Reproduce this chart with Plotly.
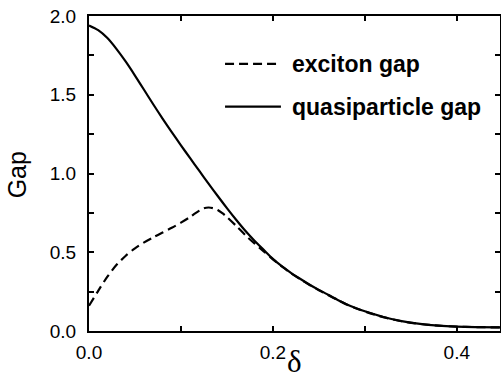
import plotly.graph_objects as go

# ---- data ----
delta_qp = [0.0, 0.01, 0.02, 0.03, 0.04, 0.05, 0.06, 0.07, 0.08, 0.09, 0.10,
            0.11, 0.12, 0.13, 0.14, 0.15, 0.16, 0.17, 0.18, 0.19, 0.20,
            0.21, 0.22, 0.23, 0.24, 0.25, 0.26, 0.27, 0.28, 0.29, 0.30,
            0.32, 0.34, 0.36, 0.38, 0.40, 0.42, 0.447]
quasiparticle_gap = [1.94, 1.91, 1.86, 1.79, 1.71, 1.622, 1.530, 1.438, 1.349,
                     1.263, 1.179, 1.097, 1.016, 0.936, 0.857, 0.780, 0.706,
                     0.636, 0.573, 0.515, 0.458, 0.410, 0.368, 0.330, 0.294,
                     0.261, 0.230, 0.199, 0.170, 0.146, 0.125, 0.089, 0.063,
                     0.045, 0.034, 0.028, 0.025, 0.023]

delta_ex = [0.0, 0.01, 0.02, 0.03, 0.04, 0.05, 0.06, 0.07, 0.08, 0.09, 0.10,
            0.11, 0.115, 0.12, 0.125, 0.13, 0.135, 0.14, 0.145, 0.15, 0.16,
            0.17, 0.18, 0.19, 0.20, 0.21, 0.22, 0.23, 0.24, 0.25, 0.26,
            0.27, 0.28, 0.29, 0.30, 0.32, 0.34, 0.36, 0.38, 0.40, 0.42, 0.447]
exciton_gap = [0.16, 0.255, 0.345, 0.42, 0.478, 0.525, 0.563, 0.595, 0.625,
               0.655, 0.688, 0.724, 0.745, 0.764, 0.779, 0.784, 0.780, 0.768,
               0.748, 0.724, 0.668, 0.609, 0.556, 0.506, 0.455, 0.408, 0.366,
               0.328, 0.292, 0.259, 0.228, 0.198, 0.169, 0.145, 0.124, 0.088,
               0.062, 0.045, 0.034, 0.028, 0.025, 0.023]

legend_labels = ["exciton gap", "quasiparticle gap"]
x_title = "δ"
y_title = "Gap"

# ---- figure ----
fig = go.Figure()
fig.add_trace(go.Scatter(x=delta_ex, y=exciton_gap, mode="lines",
                         line=dict(color="black", width=2.2, dash="9px,5px",
                                   shape="spline", smoothing=0.8),
                         name=legend_labels[0], showlegend=False))
fig.add_trace(go.Scatter(x=delta_qp, y=quasiparticle_gap, mode="lines",
                         line=dict(color="black", width=2.2,
                                   shape="spline", smoothing=0.8),
                         name=legend_labels[1], showlegend=False))

# hand-made legend (line samples + bold labels)
leg_x0, leg_x1, leg_tx = 0.331, 0.467, 0.490
leg_y = [0.848, 0.712]
dashes = ["9px,5px", "solid"]
for lab, yy, dd in zip(legend_labels, leg_y, dashes):
    fig.add_shape(type="line", xref="paper", yref="paper",
                  x0=leg_x0, x1=leg_x1, y0=yy, y1=yy,
                  line=dict(color="black", width=2.2, dash=dd))
    fig.add_annotation(xref="paper", yref="paper", x=leg_tx, y=yy,
                       xanchor="left", yanchor="middle", showarrow=False,
                       text="<b>%s</b>" % lab,
                       font=dict(family="Liberation Sans, Arial", size=23,
                                 color="black"))

# axis titles as annotations (fixed positions)
fig.add_annotation(xref="paper", yref="paper", x=0.501, y=-0.097,
                   xanchor="center", yanchor="middle", showarrow=False,
                   text=x_title,
                   font=dict(family="Liberation Serif, Times New Roman",
                             size=31, color="black"))
fig.add_annotation(xref="paper", yref="paper", x=-0.173, y=0.497,
                   xanchor="center", yanchor="middle", showarrow=False,
                   text=y_title, textangle=-90,
                   font=dict(family="Liberation Sans, Arial", size=25,
                             color="black"))

axis_common = dict(showline=True, linecolor="black", linewidth=2,
                   mirror="allticks", ticks="inside", ticklen=5, tickwidth=1.5,
                   tickcolor="black", showgrid=False, zeroline=False,
                   automargin=False,
                   tickfont=dict(family="Liberation Sans, Arial", size=19,
                                 color="black"),
                   tickformat=".1f")

fig.update_xaxes(range=[0, 0.447], tick0=0, dtick=0.2,
                 minor=dict(dtick=0.1, ticks="inside", ticklen=5,
                            tickcolor="black", tickwidth=1.5),
                 ticklabelstandoff=3,
                 **axis_common)
fig.update_yaxes(range=[0, 2.0], tick0=0, dtick=0.5,
                 minor=dict(dtick=0.25, ticks="inside", ticklen=5,
                            tickcolor="black", tickwidth=1.5),
                 ticklabelstandoff=7,
                 **axis_common)

fig.update_layout(width=501, height=381,
                  margin=dict(l=89, r=1, t=16, b=50),
                  paper_bgcolor="white", plot_bgcolor="white",
                  showlegend=False)

fig.write_html("out.html")
